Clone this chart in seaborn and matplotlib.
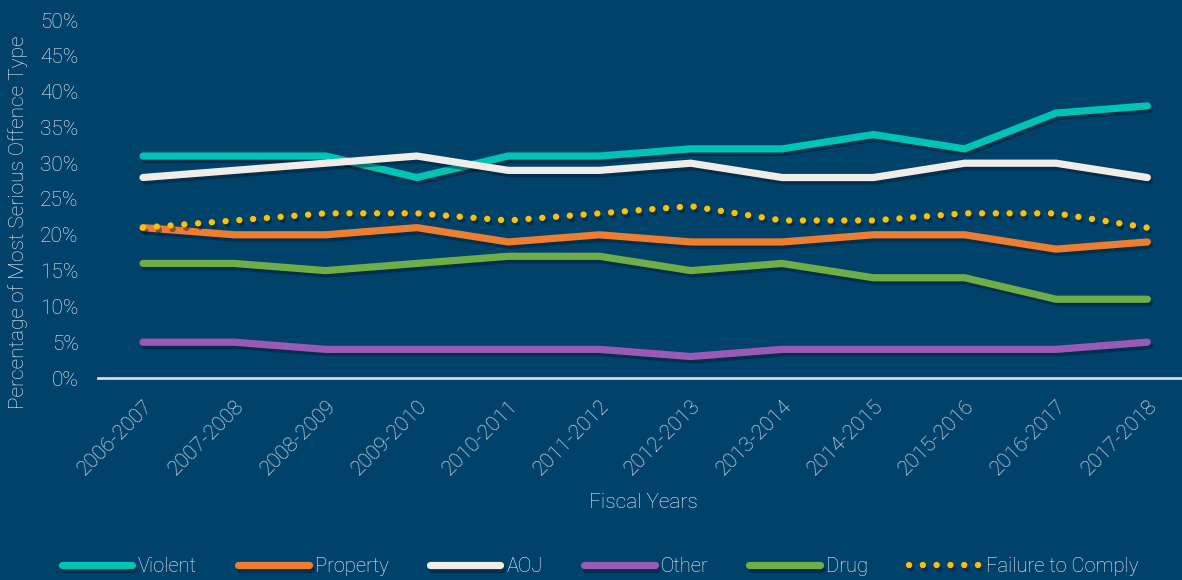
import numpy as np
import pandas as pd
import matplotlib
matplotlib.use("Agg")
import matplotlib.pyplot as plt
import matplotlib.patheffects as pe
import seaborn as sns

years = ['2006-2007', '2007-2008', '2008-2009', '2009-2010', '2010-2011', '2011-2012',
         '2012-2013', '2013-2014', '2014-2015', '2015-2016', '2016-2017', '2017-2018']

violent = [31, 31, 31, 28, 31, 31, 32, 32, 34, 32, 37, 38]
property_ = [21, 20, 20, 21, 19, 20, 19, 19, 20, 20, 18, 19]
aoj = [28, 29, 30, 31, 29, 29, 30, 28, 28, 30, 30, 28]
other = [5, 5, 4, 4, 4, 4, 3, 4, 4, 4, 4, 5]
drug = [16, 16, 15, 16, 17, 17, 15, 16, 14, 14, 11, 11]
failure = [21, 22, 23, 23, 22, 23, 24, 22, 22, 23, 23, 21]

series_names = ['Violent', 'Property', 'AOJ', 'Other', 'Drug', 'Failure to Comply']
series_vals = [violent, property_, aoj, other, drug, failure]
colors = ['#00C4B3', '#ED7D31', '#F0EDE8', '#9B59B6', '#70AD47', '#FFC000']

bg = '#00426A'
txt = '#F4F7FA'

sns.set_theme(style="dark")
plt.rcParams['font.family'] = ['Roboto', 'DejaVu Sans']
plt.rcParams['font.weight'] = 'light'
plt.rcParams['axes.labelweight'] = 'light'

fig = plt.figure(figsize=(11.82, 5.8), dpi=100, facecolor=bg)
ax = fig.add_axes([98 / 1182, 202 / 580, 1 - 98 / 1182, 358 / 580])
ax.set_facecolor(bg)

shadow = [pe.SimpleLineShadow(offset=(1.5, -2.5), shadow_color='#001a30', alpha=0.45), pe.Normal()]

for name, vals, c in zip(series_names, series_vals, colors):
    df = pd.DataFrame({'year': years, 'pct': vals})
    sns.lineplot(data=df, x='year', y='pct', ax=ax, color=c, sort=False, label=name)
    line = ax.lines[-1]
    line.set_clip_on(False)
    line.set_path_effects(shadow)
    if name == 'Failure to Comply':
        line.set_linewidth(4.6)
        line.set_dashes((0.01, 2.15))
        line.set_dash_capstyle('round')
    else:
        line.set_linewidth(5.2)
        line.set_solid_capstyle('round')
        line.set_solid_joinstyle('round')

ax.set_xlim(-0.493, 11.38)
ax.set_ylim(0, 50)
ax.set_yticks(range(0, 51, 5))
ax.set_yticklabels([f'{v}%' for v in range(0, 51, 5)], fontsize=15, fontweight='light')
ax.set_xticks(range(len(years)))
ax.set_xticklabels(years, fontsize=15, fontweight='light', rotation=45, ha='right',
                   rotation_mode='anchor')
ax.tick_params(axis='both', length=0, labelcolor=txt)
ax.tick_params(axis='x', pad=13)
ax.tick_params(axis='y', pad=14)
ax.grid(False)
for s in ['top', 'right', 'left']:
    ax.spines[s].set_visible(False)
ax.spines['bottom'].set_color('#D9D9D9')
ax.spines['bottom'].set_linewidth(2)

ax.set_xlabel('Fiscal Years', fontsize=15, color=txt, fontweight='light')
ax.set_ylabel('Percentage of Most Serious Offence Type', fontsize=15, color=txt, fontweight='light')
ax.xaxis.set_label_coords((643 - 98) / 1084, -(502 - 378) / 358)
ax.yaxis.set_label_coords((18 - 98) / 1084, (580 - 222 - 202) / 358)
ax.xaxis.label.set_va('center')
ax.yaxis.label.set_va('center')

handles, labels = ax.get_legend_handles_labels()
ax.get_legend().remove()
leg = fig.legend(handles, labels, loc='center', bbox_to_anchor=(600 / 1182, 1 - 567 / 580),
                 ncol=6, frameon=False, fontsize=14.5, handlelength=3.5, handletextpad=0.3,
                 columnspacing=2.05)
for t in leg.get_texts():
    t.set_color(txt)
    t.set_fontweight('light')

fig.savefig('out.png', dpi=100, facecolor=bg)
